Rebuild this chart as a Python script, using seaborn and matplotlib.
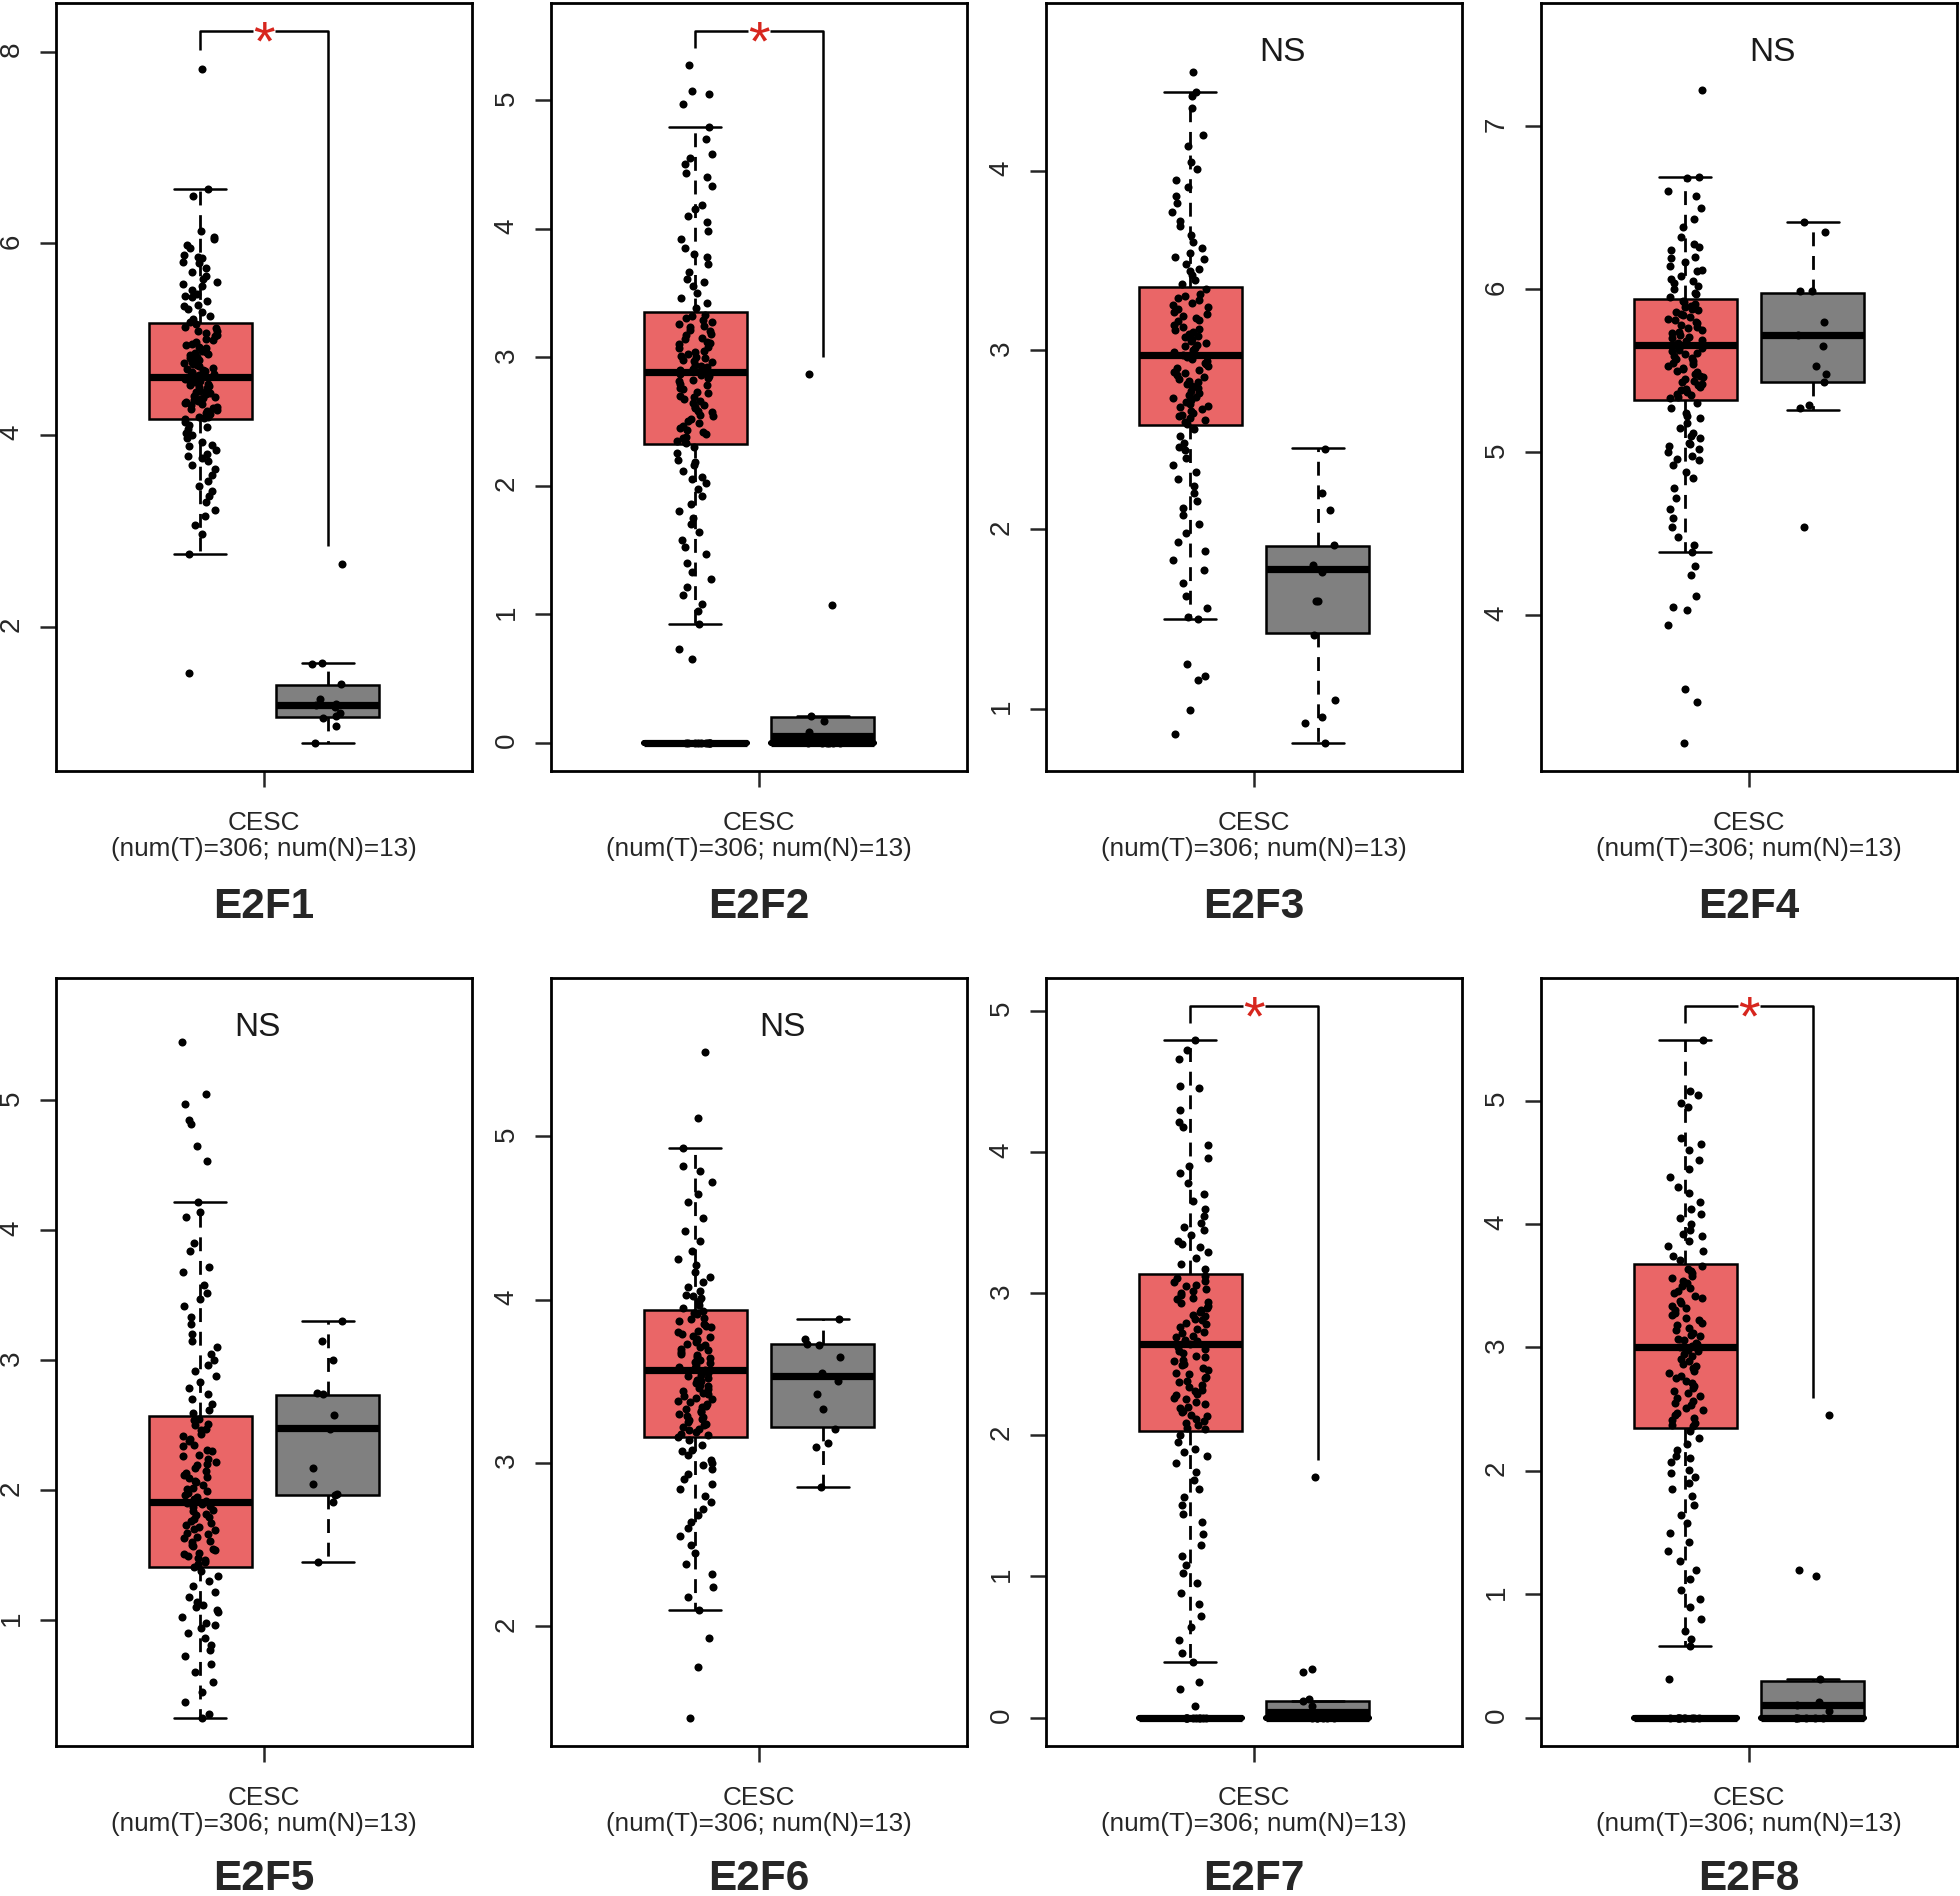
import numpy as np
import pandas as pd
import matplotlib
matplotlib.use('Agg')
import matplotlib.pyplot as plt
import seaborn as sns

# ---- data (log2(TPM+1) expression, CESC tumor vs normal) ----
genes = ['E2F1', 'E2F2', 'E2F3', 'E2F4', 'E2F5', 'E2F6', 'E2F7', 'E2F8']
significance = ['*', '*', 'NS', 'NS', 'NS', 'NS', '*', '*']
y_ticks = [[2, 4, 6, 8], [0, 1, 2, 3, 4, 5], [1, 2, 3, 4], [4, 5, 6, 7],
           [1, 2, 3, 4, 5], [2, 3, 4, 5], [0, 1, 2, 3, 4, 5], [0, 1, 2, 3, 4, 5]]
dataset_label = 'CESC\n(num(T)=306; num(N)=13)'

# box statistics: whisker low, Q1, median, Q3, whisker high
tumor_box = [[2.76, 4.165, 4.61, 5.17, 6.57],
             [0.92, 2.325, 2.88, 3.35, 4.79],
             [1.50, 2.58, 2.97, 3.35, 4.44],
             [4.39, 5.32, 5.66, 5.94, 6.69],
             [0.25, 1.405, 1.91, 2.57, 4.22],
             [2.10, 3.156, 3.57, 3.936, 4.93],
             [0.39, 2.03, 2.64, 3.14, 4.79],
             [0.58, 2.35, 3.00, 3.68, 5.49]]
normal_box = [[0.79, 1.06, 1.18, 1.39, 1.62],
              [0.0, 0.0, 0.05, 0.20, 0.21],
              [0.81, 1.42, 1.78, 1.905, 2.455],
              [5.26, 5.43, 5.72, 5.98, 6.41],
              [1.45, 1.96, 2.475, 2.735, 3.30],
              [2.85, 3.22, 3.53, 3.73, 3.88],
              [0.0, 0.0, 0.04, 0.12, 0.12],
              [0.0, 0.0, 0.10, 0.30, 0.31]]
# genes with a block of samples sitting at zero expression
zero_block = [False, True, False, False, False, False, True, True]

e2f1_tumor = [7.82, 6.57, 6.49, 6.13, 6.07, 6.04, 5.98, 5.95, 5.88, 5.86, 5.81, 5.79, 5.74, 5.70, 5.66,
              5.63, 5.58, 5.55, 5.51, 5.47, 5.44, 5.40, 5.36, 5.31, 5.28, 5.24, 5.21, 5.18,
              5.16, 5.12, 5.09, 5.06, 5.03, 4.99, 4.97, 4.94, 4.91, 4.88, 4.86, 4.83, 4.81, 4.78,
              4.76, 4.74, 4.72, 4.70, 4.68, 4.66, 4.65, 4.63, 4.62, 4.61,
              4.60, 4.58, 4.56, 4.55, 4.53, 4.51, 4.49, 4.47, 4.45, 4.43, 4.41, 4.39, 4.37, 4.35,
              4.33, 4.31, 4.29, 4.27, 4.25, 4.23, 4.21, 4.19, 4.18, 4.17,
              4.14, 4.10, 4.06, 4.02, 3.97, 3.93, 3.88, 3.84, 3.80, 3.76, 3.73, 3.69, 3.64, 3.58,
              3.52, 3.47, 3.41, 3.36, 3.30, 3.22, 3.15, 3.06, 2.97, 2.76, 1.52,
              4.19, 4.22, 4.26, 4.28, 4.32, 4.34, 4.38, 4.40, 4.44, 4.46, 4.50, 4.52, 4.57, 4.59,
              4.64, 4.67, 4.69, 4.73, 4.75, 4.80, 4.84, 4.87, 4.92, 4.95, 5.00, 5.04, 5.08, 5.13,
              5.35, 5.45, 5.60, 5.85, 3.90, 3.78, 4.00, 4.08]
e2f2_tumor = [5.27, 5.07, 5.05, 4.97, 4.79, 4.70, 4.58, 4.55, 4.50, 4.43, 4.40, 4.33, 4.18, 4.15,
              4.10, 4.05, 3.98, 3.92, 3.85, 3.78, 3.72, 3.66, 3.61, 3.55, 3.50, 3.46, 3.42, 3.38,
              3.33, 3.30, 3.27, 3.24, 3.21, 3.18, 3.15, 3.12, 3.10, 3.07, 3.05, 3.02, 3.00, 2.98,
              2.96, 2.94, 2.92, 2.90, 2.89,
              2.87, 2.85, 2.82, 2.79, 2.76, 2.73, 2.70, 2.67, 2.64, 2.61, 2.58, 2.55, 2.52, 2.49,
              2.46, 2.43, 2.40, 2.37, 2.34, 2.33,
              2.30, 2.25, 2.20, 2.16, 2.11, 2.07, 2.02, 1.97, 1.92, 1.86, 1.80, 1.75, 1.70, 1.64,
              1.58, 1.52, 1.47, 1.40, 1.33, 1.27, 1.21, 1.15, 1.08, 1.02, 0.92, 0.73, 0.65,
              2.35, 2.38, 2.42, 2.45, 2.50, 2.54, 2.57, 2.60, 2.63, 2.66, 2.69, 2.72, 2.75, 2.78,
              2.81, 2.84, 2.86, 2.91, 2.93, 2.97, 2.99, 3.01, 3.04, 3.08, 3.11, 3.14, 3.17, 3.20,
              3.23, 3.26, 3.29, 3.32, 3.58, 3.80, 2.18, 2.05,
              0.0, 0.0, 0.0, 0.0, 0.0, 0.0, 0.0, 0.0, 0.0, 0.0]
e2f3_tumor = [4.55, 4.44, 4.42, 4.35, 4.20, 4.14, 4.05, 4.01, 3.95, 3.91, 3.86, 3.82, 3.77, 3.72,
              3.69, 3.64, 3.60, 3.57, 3.54, 3.51, 3.48, 3.45, 3.42, 3.39, 3.37,
              3.34, 3.31, 3.29, 3.26, 3.24, 3.21, 3.19, 3.17, 3.14, 3.12, 3.10, 3.08, 3.06, 3.04,
              3.02, 3.00, 2.99, 2.98,
              2.96, 2.94, 2.92, 2.90, 2.88, 2.86, 2.84, 2.82, 2.80, 2.77, 2.75, 2.73, 2.71, 2.69,
              2.67, 2.65, 2.63, 2.61, 2.59,
              2.56, 2.52, 2.48, 2.44, 2.40, 2.36, 2.32, 2.28, 2.24, 2.20, 2.16, 2.12, 2.08, 2.03,
              1.98, 1.93, 1.88, 1.83, 1.77, 1.70, 1.63, 1.56, 1.51, 1.50, 1.25, 1.18, 1.16, 0.99, 0.86,
              2.60, 2.62, 2.64, 2.66, 2.68, 2.70, 2.72, 2.74, 2.76, 2.79, 2.81, 2.83, 2.85, 2.87,
              2.89, 2.91, 2.93, 2.95, 2.97, 3.01, 3.03, 3.05, 3.07, 3.09, 3.11, 3.13, 3.16, 3.18,
              3.20, 3.23, 3.25, 3.28, 3.30, 3.44, 3.52, 2.46]
e2f4_tumor = [7.22, 6.69, 6.68, 6.60, 6.57, 6.50, 6.43, 6.38, 6.32, 6.28, 6.24, 6.20, 6.17, 6.14,
              6.11, 6.08, 6.06, 6.04, 6.02, 6.00, 5.98, 5.97, 5.95,
              5.93, 5.91, 5.89, 5.87, 5.85, 5.83, 5.81, 5.79, 5.77, 5.76, 5.74, 5.72, 5.71, 5.70,
              5.68, 5.67,
              5.65, 5.63, 5.61, 5.59, 5.57, 5.55, 5.53, 5.51, 5.49, 5.47, 5.45, 5.43, 5.41, 5.39,
              5.37, 5.35, 5.33,
              5.30, 5.27, 5.24, 5.21, 5.18, 5.15, 5.12, 5.09, 5.06, 5.04, 5.02, 5.00, 4.98, 4.95,
              4.92, 4.88, 4.84, 4.78, 4.72, 4.65, 4.60, 4.54, 4.48, 4.43, 4.39, 4.30, 4.25, 4.12,
              4.05, 4.03, 3.94, 3.55, 3.47, 3.22,
              5.34, 5.36, 5.38, 5.40, 5.42, 5.44, 5.46, 5.48, 5.50, 5.52, 5.54, 5.56, 5.58, 5.60,
              5.62, 5.64, 5.66, 5.69, 5.73, 5.75, 5.78, 5.80, 5.82, 5.84, 5.86, 5.88, 5.90, 5.92,
              6.05, 6.12, 6.19, 5.22, 5.10, 5.05, 4.96, 6.26]
e2f5_tumor = [5.45, 5.05, 4.97, 4.85, 4.82, 4.65, 4.53, 4.22, 4.14, 4.10, 3.90, 3.84, 3.72, 3.68,
              3.58, 3.52, 3.47, 3.42, 3.33, 3.28, 3.20, 3.15, 3.10, 3.05, 3.00, 2.96, 2.92, 2.88,
              2.83, 2.79, 2.74, 2.70, 2.66, 2.62, 2.59,
              2.55, 2.51, 2.47, 2.43, 2.39, 2.35, 2.31, 2.27, 2.24, 2.20, 2.17, 2.13, 2.10, 2.07,
              2.04, 2.01, 1.98, 1.95, 1.92,
              1.90, 1.88, 1.85, 1.82, 1.79, 1.76, 1.73, 1.70, 1.67, 1.64, 1.61, 1.58, 1.55, 1.52,
              1.49, 1.46, 1.43, 1.41,
              1.38, 1.34, 1.30, 1.26, 1.22, 1.18, 1.14, 1.10, 1.06, 1.02, 0.98, 0.94, 0.90, 0.86,
              0.81, 0.77, 0.72, 0.66, 0.60, 0.52, 0.45, 0.37, 0.28, 0.25,
              1.42, 1.45, 1.48, 1.51, 1.54, 1.57, 1.60, 1.63, 1.66, 1.69, 1.72, 1.75, 1.78, 1.81,
              1.84, 1.87, 1.89, 1.93, 1.96, 1.99, 2.02, 2.06, 2.09, 2.12, 2.15, 2.19, 2.22, 2.26,
              2.30, 2.34, 2.38, 2.42, 2.46, 2.50, 2.54, 1.08, 1.12, 0.96]
e2f6_tumor = [5.52, 5.11, 4.93, 4.82, 4.79, 4.72, 4.65, 4.60, 4.50, 4.42, 4.36, 4.30, 4.25, 4.21,
              4.17, 4.14, 4.11, 4.08, 4.05, 4.03, 4.01, 3.99, 3.97, 3.95,
              3.93, 3.91, 3.89, 3.87, 3.85, 3.83, 3.81, 3.79, 3.77, 3.75, 3.73, 3.71, 3.69, 3.67,
              3.65, 3.63, 3.61, 3.59, 3.58,
              3.56, 3.54, 3.52, 3.50, 3.48, 3.46, 3.44, 3.42, 3.40, 3.38, 3.36, 3.34, 3.32, 3.30,
              3.28, 3.26, 3.24, 3.22, 3.20, 3.18, 3.16,
              3.14, 3.11, 3.08, 3.05, 3.02, 2.99, 2.96, 2.93, 2.90, 2.87, 2.84, 2.80, 2.76, 2.72,
              2.68, 2.64, 2.60, 2.55, 2.50, 2.45, 2.38, 2.32, 2.24, 2.18, 2.10, 1.93, 1.75, 1.44,
              3.17, 3.19, 3.21, 3.23, 3.25, 3.27, 3.29, 3.31, 3.33, 3.35, 3.37, 3.39, 3.41, 3.43,
              3.45, 3.47, 3.49, 3.51, 3.53, 3.55, 3.57, 3.60, 3.62, 3.64, 3.66, 3.68, 3.70, 3.72,
              3.74, 3.76, 3.78, 3.80, 3.84, 3.88, 3.92, 4.02, 3.07, 3.00]
e2f7_tumor = [4.79, 4.72, 4.66, 4.47, 4.45, 4.30, 4.21, 4.18, 4.05, 3.96, 3.90, 3.85, 3.78, 3.70,
              3.65, 3.60, 3.55, 3.50, 3.45, 3.41, 3.37, 3.33, 3.29, 3.25, 3.21, 3.17,
              3.12, 3.09, 3.06, 3.03, 3.00, 2.97, 2.94, 2.91, 2.88, 2.85, 2.82, 2.79, 2.76, 2.73,
              2.70, 2.67, 2.65,
              2.62, 2.59, 2.56, 2.53, 2.50, 2.47, 2.44, 2.41, 2.38, 2.35, 2.32, 2.29, 2.26, 2.23,
              2.20, 2.17, 2.14, 2.11, 2.08, 2.05,
              2.00, 1.95, 1.90, 1.85, 1.80, 1.74, 1.68, 1.62, 1.56, 1.50, 1.44, 1.38, 1.30, 1.22,
              1.14, 1.08, 1.02, 0.95, 0.88, 0.80, 0.72, 0.64, 0.55, 0.46, 0.39, 0.25, 0.20, 0.08,
              2.04, 2.07, 2.10, 2.13, 2.16, 2.19, 2.22, 2.25, 2.28, 2.31, 2.34, 2.37, 2.40, 2.43,
              2.46, 2.49, 2.52, 2.55, 2.58, 2.61, 2.64, 2.66, 2.69, 2.72, 2.75, 2.78, 2.81, 2.84,
              2.87, 2.90, 2.93, 2.96, 2.99, 3.02, 3.05, 3.08, 3.11, 3.35, 3.47, 1.88,
              0.0, 0.0, 0.0, 0.0, 0.0, 0.0, 0.0, 0.0, 0.0, 0.0]
e2f8_tumor = [5.49, 5.08, 5.05, 4.98, 4.95, 4.70, 4.65, 4.60, 4.52, 4.45, 4.38, 4.30, 4.25, 4.18,
              4.12, 4.05, 4.00, 3.95, 3.90, 3.86, 3.82, 3.78, 3.74, 3.71,
              3.66, 3.62, 3.58, 3.54, 3.50, 3.46, 3.42, 3.38, 3.34, 3.30, 3.26, 3.22, 3.18, 3.14,
              3.10, 3.07, 3.04, 3.01,
              2.98, 2.95, 2.91, 2.87, 2.83, 2.79, 2.75, 2.71, 2.67, 2.63, 2.59, 2.55, 2.51, 2.47,
              2.43, 2.39, 2.36,
              2.32, 2.27, 2.22, 2.17, 2.12, 2.07, 2.01, 1.95, 1.90, 1.85, 1.80, 1.72, 1.64, 1.58,
              1.50, 1.42, 1.35, 1.27, 1.20, 1.12, 1.03, 0.96, 0.90, 0.80, 0.70, 0.64, 0.58, 0.31,
              2.37, 2.41, 2.45, 2.49, 2.53, 2.57, 2.61, 2.65, 2.69, 2.73, 2.77, 2.81, 2.85, 2.89,
              2.93, 2.97, 3.00, 3.03, 3.06, 3.09, 3.12, 3.16, 3.20, 3.24, 3.28, 3.32, 3.36, 3.40,
              3.44, 3.48, 3.52, 3.56, 3.60, 3.64, 3.92, 4.08, 1.98, 2.10,
              0.0, 0.0, 0.0, 0.0, 0.0, 0.0, 0.0, 0.0, 0.0, 0.0]

e2f1_normal = [2.65, 1.62, 1.61, 1.40, 1.24, 1.19, 1.18, 1.16, 1.10, 1.07, 1.05, 0.96, 0.79]
e2f2_normal = [2.87, 1.07, 0.21, 0.17, 0.08, 0.05, 0.02, 0.0, 0.0, 0.0, 0.0, 0.0, 0.0]
e2f3_normal = [2.45, 2.20, 2.11, 1.91, 1.80, 1.76, 1.60, 1.60, 1.41, 1.05, 0.95, 0.92, 0.81]
e2f4_normal = [6.41, 6.35, 5.99, 5.99, 5.80, 5.72, 5.65, 5.53, 5.48, 5.43, 5.29, 5.27, 4.54]
e2f5_normal = [3.30, 3.15, 3.00, 2.75, 2.74, 2.58, 2.47, 2.17, 2.05, 1.97, 1.96, 1.91, 1.45]
e2f6_normal = [3.88, 3.76, 3.73, 3.72, 3.65, 3.55, 3.50, 3.42, 3.33, 3.21, 3.12, 3.10, 2.85]
e2f7_normal = [1.70, 0.34, 0.32, 0.13, 0.12, 0.08, 0.03, 0.0, 0.0, 0.0, 0.0, 0.0, 0.0]
e2f8_normal = [2.45, 1.20, 1.15, 0.31, 0.13, 0.10, 0.05, 0.0, 0.0, 0.0, 0.0, 0.0, 0.0]

tumor_values = [e2f1_tumor, e2f2_tumor, e2f3_tumor, e2f4_tumor,
                e2f5_tumor, e2f6_tumor, e2f7_tumor, e2f8_tumor]
normal_values = [e2f1_normal, e2f2_normal, e2f3_normal, e2f4_normal,
                 e2f5_normal, e2f6_normal, e2f7_normal, e2f8_normal]

# ---- style ----
sns.set_style('ticks')
plt.rcParams['font.family'] = ['Liberation Sans', 'DejaVu Sans']
plt.rcParams['axes.linewidth'] = 1.0
plt.rcParams['axes.edgecolor'] = 'black'

tumor_color = '#EA6667'
normal_color = '#808080'
star_color = '#D7261E'

# label x position of the "NS" text (GEPIA puts it off-centre)
ns_x = {'E2F3': 0.72, 'E2F4': 0.68, 'E2F5': 0.45, 'E2F6': 0.68}

col_left = [56, 551, 1046, 1541]
row_bottom = [771, 1746]
title_offset = [-49, -48]
ax_w, ax_h = 416, 768
W, H = 1960, 1896

np.random.seed(3)


def box_stats(v):
    return dict(whislo=v[0], q1=v[1], med=v[2], q3=v[3], whishi=v[4], fliers=[])


fig = plt.figure(figsize=(W / 200, H / 200), dpi=200)

for i, gene in enumerate(genes):
    row, col = divmod(i, 4)
    ax = fig.add_axes([col_left[col] / W, 1 - row_bottom[row] / H, ax_w / W, ax_h / H])

    bp = ax.bxp([box_stats(tumor_box[i]), box_stats(normal_box[i])], positions=[0, 1],
                widths=0.81, patch_artist=True, showfliers=False,
                boxprops=dict(linewidth=0.9, edgecolor='black'),
                medianprops=dict(color='black', linewidth=2.6, solid_capstyle='butt'),
                whiskerprops=dict(color='black', linewidth=1.0, linestyle=(0, (5, 3.5))),
                capprops=dict(color='black', linewidth=0.9))
    for patch, c in zip(bp['boxes'], [tumor_color, normal_color]):
        patch.set_facecolor(c)

    if zero_block[i]:
        ax.bxp([box_stats([0] * 5), box_stats([0] * 5)], positions=[0, 1], widths=0.81,
               showfliers=False, boxprops=dict(linewidth=2.0, color='black'),
               medianprops=dict(color='black', linewidth=2.6, solid_capstyle='butt'),
               whiskerprops=dict(linewidth=0), capprops=dict(linewidth=0))

    t, n = tumor_values[i], normal_values[i]
    df = pd.DataFrame({'group': ['Tumor'] * len(t) + ['Normal'] * len(n), 'value': t + n})
    sns.stripplot(data=df, x='group', y='value', order=['Tumor', 'Normal'], color='black',
                  size=2.9, jitter=0.14, linewidth=0, ax=ax, zorder=3)

    lo = min(df['value'].min(), tumor_box[i][0], normal_box[i][0])
    top_val = max(df['value'].max(), tumor_box[i][4], normal_box[i][4])
    top = 1.05 * top_val
    pad = 0.04 * (top - lo)
    ax.set_ylim(lo - pad, top + pad)
    ax.set_xlim(-1.13, 2.13)

    if significance[i] == '*':
        left_end = max(t) + 0.025 * top_val
        right_end = max(n) + 0.025 * top_val
        ax.plot([0, 0, 0.5 - 0.085], [left_end, top, top], color='black', lw=0.9,
                solid_capstyle='butt')
        ax.plot([0.5 + 0.085, 1, 1], [top, top, right_end], color='black', lw=0.9,
                solid_capstyle='butt')
        ax.annotate('*', xy=(0.5, top), xytext=(0, -10), textcoords='offset points',
                    ha='center', va='baseline', color=star_color, fontsize=20)
    else:
        ax.annotate('NS', xy=(ns_x.get(gene, 0.5), top), xytext=(0, -10.5),
                    textcoords='offset points', ha='center', va='baseline',
                    color='#1a1a1a', fontsize=12)

    ax.set_xticks([0.5])
    ax.set_xticklabels([''])
    ax.set_yticks(y_ticks[i])
    ax.set_yticklabels([str(v) for v in y_ticks[i]])
    ax.tick_params(axis='y', length=5.8, width=0.9, pad=5.5, labelsize=10, labelrotation=90)
    ax.tick_params(axis='x', length=5.8, width=0.9)
    ax.set_xlabel('')
    ax.set_ylabel('')
    for s in ax.spines.values():
        s.set_visible(True)
        s.set_linewidth(1.0)

    ax.annotate(dataset_label, xy=(0.5, 0), xycoords='axes fraction', xytext=(0, -23.5),
                textcoords='offset points', ha='center', va='center', fontsize=9.4,
                linespacing=1.1)
    ax.annotate(gene, xy=(0.5, 0), xycoords='axes fraction', xytext=(0, title_offset[row]),
                textcoords='offset points', ha='center', va='center', fontsize=15.2,
                fontweight='bold')

fig.savefig('out.png', dpi=200)
